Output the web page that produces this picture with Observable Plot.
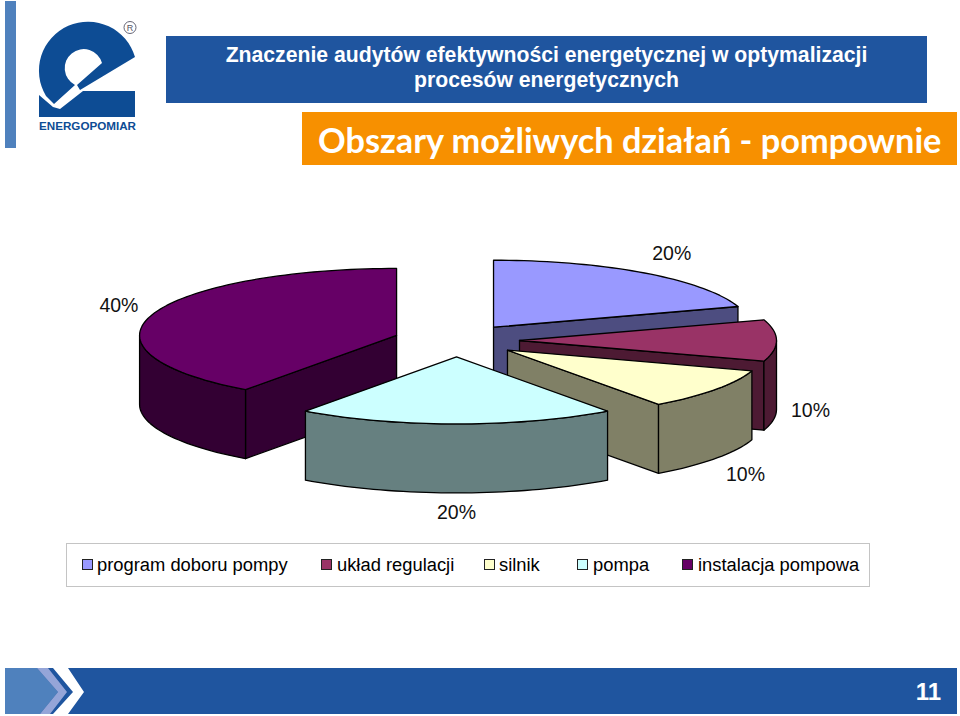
<!DOCTYPE html>
<html lang="pl">
<head>
<meta charset="utf-8">
<script src="https://cdn.jsdelivr.net/npm/d3@7"></script>
<script src="https://cdn.jsdelivr.net/npm/@observablehq/plot@0.6"></script>
<style>
html,body{margin:0;padding:0;background:#fff;overflow:hidden}
#page{position:relative;width:960px;height:716px;font-family:"Liberation Sans",Arial,sans-serif}
#page>*{position:absolute}
#bar{left:5px;top:1px;width:11px;height:147px;background:#4f81bd}
#logo{left:0;top:0}
#title{left:166px;top:36px;width:761px;height:67px;background:#1f559f;color:#fff;font-weight:bold;font-size:21.2px;line-height:25px;text-align:center;padding-top:6px;box-sizing:border-box;white-space:nowrap}
#sub{left:302px;top:112px;width:655px;height:53px;background:#f79000;color:#fff;font-family:Lato,sans-serif;font-weight:bold;font-size:34.3px;line-height:55px;padding-left:16px;box-sizing:border-box;white-space:nowrap}
#chart{left:0;top:170px}
#legend{left:66px;top:543px;width:804px;height:44px;box-sizing:border-box;border:1px solid #c4c4c4;font-size:18.35px}
#legend span{position:absolute;top:10px;line-height:21px;white-space:nowrap}
#legend i{position:absolute;width:9px;height:9px;top:15px;border:1px solid #222}
#foot{left:0;top:0}
#num{left:905px;top:677px;width:36px;text-align:right;color:#fff;font-weight:bold;font-size:24px;line-height:30px}
</style>
</head>
<body>
<div id="page">
  <div id="bar"></div>
  <svg id="logo" width="160" height="150" viewBox="0 0 160 150">
    <g fill="#0d4c94">
      <path d="M135,57 A49,49 0 1 0 46,96 L54,104 L75,85 A19,19 0 1 1 102,63 L77,85 L80,90 Z"/>
      <path d="M39,95 L53,107 L60,109 L83,91 L135,91 L135,117 L39,117 Z"/>
    </g>
    <circle cx="130" cy="27.5" r="6" fill="none" stroke="#667" stroke-width="1"/>
    <text x="130" y="31" text-anchor="middle" font-size="9" fill="#556" font-family="Liberation Sans">R</text>
    <text x="39" y="130" font-size="11.5" font-weight="bold" fill="#0d4c94" textLength="97" lengthAdjust="spacingAndGlyphs" font-family="Liberation Sans">ENERGOPOMIAR</text>
  </svg>
  <div id="title">Znaczenie audytów efektywności energetycznej w optymalizacji<br>procesów energetycznych</div>
  <div id="sub">Obszary możliwych działań - pompownie</div>
  <div id="chart"></div>
  <div id="legend"></div>
  <svg id="foot" width="960" height="716" viewBox="0 0 960 716" style="pointer-events:none">
    <rect x="5" y="668" width="952" height="46" fill="#1f559f"/>
    <polygon points="5,668 37,668 58,692 40,714 5,714" fill="#4f81bd"/>
    <polygon points="37,668 48,668 67,692 50,714 40,714 58,692" fill="#95a5d8"/>
    <polygon points="53,668 68,668 84,692 68,714 53,714 73,692" fill="#fff"/>
  </svg>
  <div id="num">11</div>
</div>
<script>
const categories = ["program doboru pompy", "układ regulacji", "silnik", "pompa", "instalacja pompowa"];
const shares = [20, 10, 10, 20, 40];
const topColors = ["#9999ff", "#993366", "#ffffcc", "#ccffff", "#660066"];
const wallColors = ["#4d4d80", "#4d1a33", "#808066", "#668080", "#330033"];
const labelTexts = ["20%", "10%", "10%", "20%", "40%"];
const labelNudgeX = [6, -2, 1, 0, 1];
const labelNudgeY = [-12, 1, 11, 10, -6];
const legendSwatchX = [15, 254, 417, 510, 615];
const legendTextX = [30, 270, 432, 526, 631];

// Pie model: unit circle, flattened by the scales (tilted view)
const rxPx = 257, ryPx = 67, cxPx = 456, cyPx = 170, W = 960, H = 365;
const explode = 63 / 257, depth = 69 / 67;

const total = d3.sum(shares);
let acc = 0;
const slices = shares.map((v, i) => {
  const a0 = acc / total * 2 * Math.PI;
  acc += v;
  const a1 = acc / total * 2 * Math.PI;
  const mid = (a0 + a1) / 2;
  return {i, a0, a1, mid, ax: explode * Math.sin(mid), ay: -explode * Math.cos(mid)};
});
const pt = (s, a, k = 1, dz = 0) => ({x: s.ax + k * Math.sin(a), y: s.ay - k * Math.cos(a) + dz});
const arc = (s, a0, a1, dz = 0) => {
  const n = Math.max(2, Math.ceil((a1 - a0) / 0.03));
  return d3.range(n + 1).map(j => pt(s, a0 + (a1 - a0) * j / n, 1, dz));
};
const poly = (points, fill) => Plot.line(points, {x: "x", y: "y", fill, stroke: "#000", strokeWidth: 1.3, curve: "linear"});
const closed = pts => [...pts, pts[0]];

const HALF = Math.PI / 2, ONEHALF = 3 * Math.PI / 2;
const marks = [];
for (const i of [0, 1, 2, 4, 3]) {
  const s = slices[i];
  const apex = pt(s, 0, 0), fill = wallColors[i];
  // radial side wall that faces the viewer
  for (const [a, faces] of [[s.a0, s.a0 > Math.PI], [s.a1, s.a1 < Math.PI]]) {
    if (faces) {
      const e = pt(s, a);
      marks.push(poly(closed([apex, e, {x: e.x, y: e.y + depth}, {x: apex.x, y: apex.y + depth}]), fill));
    }
  }
  // outer rim that faces the viewer
  const r0 = Math.max(s.a0, HALF), r1 = Math.min(s.a1, ONEHALF);
  if (r1 > r0) marks.push(poly(closed([...arc(s, r0, r1), ...arc(s, r0, r1, depth).reverse()]), fill));
  // top face
  marks.push(poly(closed([apex, ...arc(s, s.a0, s.a1)]), topColors[i]));
}

const labelRows = slices.map(s => {
  const front = Math.cos(s.mid) <= 0.01 ? depth : 0;
  const p = pt(s, s.mid, 1.14, front);
  return {...p, label: labelTexts[s.i], dx: labelNudgeX[s.i], dy: labelNudgeY[s.i]};
});
for (const r of labelRows) {
  marks.push(Plot.text([r], {x: "x", y: "y", text: "label", dx: r.dx, dy: r.dy, fontSize: 19.5, fill: "#111"}));
}

const chart = Plot.plot({
  width: W, height: H,
  marginTop: 0, marginRight: 0, marginBottom: 0, marginLeft: 0,
  style: {fontFamily: '"Liberation Sans", Arial, sans-serif', background: "transparent"},
  x: {axis: null, domain: [-cxPx / rxPx, (W - cxPx) / rxPx], range: [0, W]},
  y: {axis: null, domain: [-cyPx / ryPx, (H - cyPx) / ryPx], range: [0, H]},
  marks
});
document.getElementById("chart").appendChild(chart);

const legend = document.getElementById("legend");
categories.forEach((c, i) => {
  const sw = document.createElement("i");
  sw.style.left = legendSwatchX[i] + "px";
  sw.style.background = topColors[i];
  const t = document.createElement("span");
  t.style.left = legendTextX[i] + "px";
  t.textContent = c;
  legend.append(sw, t);
});
</script>
</body>
</html>
